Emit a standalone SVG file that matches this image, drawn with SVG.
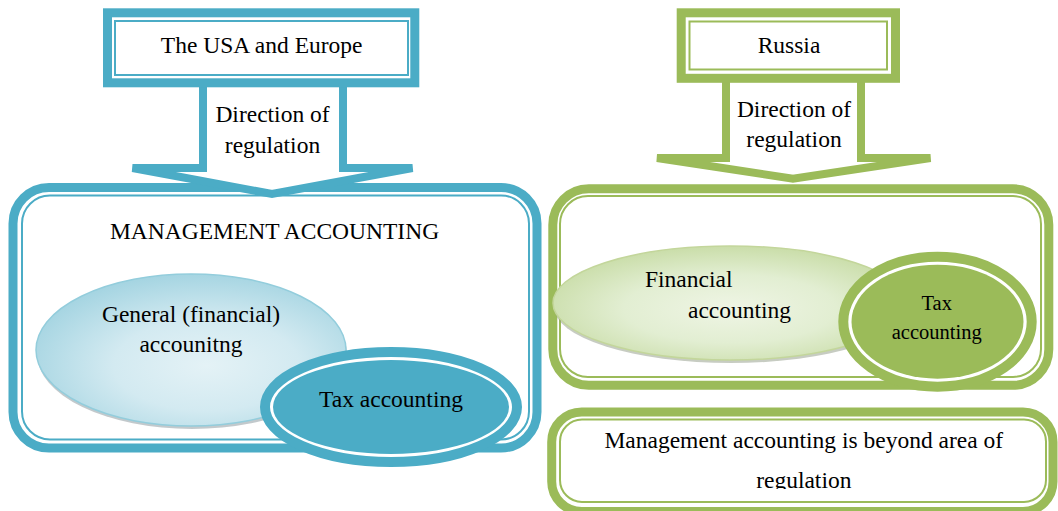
<svg xmlns="http://www.w3.org/2000/svg" width="1058" height="511" viewBox="0 0 1058 511">
<style>
  .t { font-family: "Liberation Serif", "Times New Roman", serif; font-size: 23.5px; fill: #000; }
  .ts { font-family: "Liberation Serif", "Times New Roman", serif; font-size: 20.5px; fill: #000; }
  .bThick { fill: #fff; stroke: #4BACC6; stroke-width: 9; }
  .bThin { fill: none; stroke: #4BACC6; stroke-width: 2; }
  .gThick { fill: #fff; stroke: #9BBB59; stroke-width: 9; }
  .gThin { fill: none; stroke: #9BBB59; stroke-width: 2; }
  .bArrow { fill: #fff; stroke: #4BACC6; stroke-width: 8; stroke-linejoin: miter; }
  .gArrow { fill: #fff; stroke: #9BBB59; stroke-width: 8; stroke-linejoin: miter; }
</style>
<defs>
  <radialGradient id="blueGrad" cx="55%" cy="60%" r="60%">
    <stop offset="0" stop-color="#e4f2f6"/>
    <stop offset="0.5" stop-color="#d3eaf1"/>
    <stop offset="1" stop-color="#a6d5e2"/>
  </radialGradient>
  <radialGradient id="greenGrad" cx="50%" cy="55%" r="60%">
    <stop offset="0" stop-color="#eff5e5"/>
    <stop offset="0.5" stop-color="#e2eed2"/>
    <stop offset="1" stop-color="#c5daa1"/>
  </radialGradient>
  <clipPath id="clipBottom">
    <rect x="540" y="400" width="518" height="89"/>
  </clipPath>
</defs>
<rect width="1058" height="511" fill="#fff"/>

<!-- LEFT: big management accounting box -->
<g id="mgmt-box">
  <rect class="bThick" x="13" y="187.5" width="524" height="260.5" rx="36"/>
  <rect class="bThin" x="22" y="195.5" width="507" height="244" rx="28"/>
  <text class="t" x="274.5" y="239" text-anchor="middle">MANAGEMENT ACCOUNTING</text>
</g>

<g id="general-accounting">
  <ellipse cx="192" cy="354" rx="155" ry="75" fill="#8f9da2" opacity="0.55"/>
  <ellipse cx="191" cy="350" rx="155" ry="76" fill="url(#blueGrad)" stroke="#93cddc" stroke-width="1.5"/>
  <text class="t" x="191" y="321.7" text-anchor="middle">General (financial)</text>
  <text class="t" x="191" y="351.5" text-anchor="middle">accounitng</text>
</g>

<g id="tax-accounting-left">
  <ellipse cx="391" cy="407" rx="126" ry="55" fill="#fff" stroke="#4BACC6" stroke-width="10"/>
  <ellipse cx="391" cy="407" rx="118" ry="47" fill="#4BACC6"/>
  <text class="t" x="391" y="406.7" text-anchor="middle">Tax accounting</text>
</g>

<!-- RIGHT: Russia regulated box -->
<g id="russia-box">
  <rect class="gThick" x="552.8" y="188.8" width="496" height="196.5" rx="36"/>
  <rect class="gThin" x="560" y="196" width="481" height="181" rx="28"/>
</g>

<g id="financial-accounting">
  <ellipse cx="731" cy="307" rx="177" ry="56" fill="#8f9a86" opacity="0.5"/>
  <ellipse cx="730" cy="303" rx="177" ry="57" fill="url(#greenGrad)" stroke="#c3d69b" stroke-width="1.5"/>
  <text class="t" x="645" y="286.7">Financial</text>
  <text class="t" x="688" y="318.3">accounting</text>
</g>

<g id="tax-accounting-right">
  <ellipse cx="937.5" cy="321.7" rx="94.2" ry="65" fill="#fff" stroke="#9BBB59" stroke-width="10"/>
  <ellipse cx="937.5" cy="321.7" rx="86" ry="57" fill="#9BBB59"/>
  <text class="ts" x="936.7" y="310" text-anchor="middle">Tax</text>
  <text class="ts" x="936.7" y="339" text-anchor="middle">accounting</text>
</g>

<g id="beyond-box">
  <rect class="gThick" x="551.7" y="412" width="501.3" height="99.5" rx="30"/>
  <rect class="gThin" x="560" y="419.5" width="486" height="82.5" rx="22"/>
  <g clip-path="url(#clipBottom)">
    <text class="t" x="803.8" y="448.3" text-anchor="middle">Management accounting is beyond area of</text>
    <text class="t" x="803.8" y="487.5" text-anchor="middle">regulation</text>
  </g>
</g>

<!-- connectors: block arrows -->
<g id="connectors">
  <polygon class="bArrow" points="203,80 203,168 132.5,168 272,194 412.5,168 343,168 343,80"/>
  <text class="t" x="272.5" y="121.7" text-anchor="middle">Direction of</text>
  <text class="t" x="272.5" y="152.5" text-anchor="middle">regulation</text>
  <polygon class="gArrow" points="726,78 726,158 657,158 793,178.7 930.5,158 861,158 861,78"/>
  <text class="t" x="794" y="116.7" text-anchor="middle">Direction of</text>
  <text class="t" x="794" y="147" text-anchor="middle">regulation</text>
</g>

<!-- top boxes -->
<g id="usa-europe">
  <rect class="bThick" x="107.5" y="12.8" width="307.3" height="70"/>
  <rect class="bThin" x="115" y="21" width="293" height="54"/>
  <text class="t" x="261.7" y="53" text-anchor="middle">The USA and Europe</text>
</g>

<g id="russia">
  <rect class="gThick" x="681.2" y="12.8" width="214.3" height="65.5"/>
  <rect class="gThin" x="689.5" y="21.5" width="197.5" height="48"/>
  <text class="t" x="789" y="53" text-anchor="middle">Russia</text>
</g>
</svg>
